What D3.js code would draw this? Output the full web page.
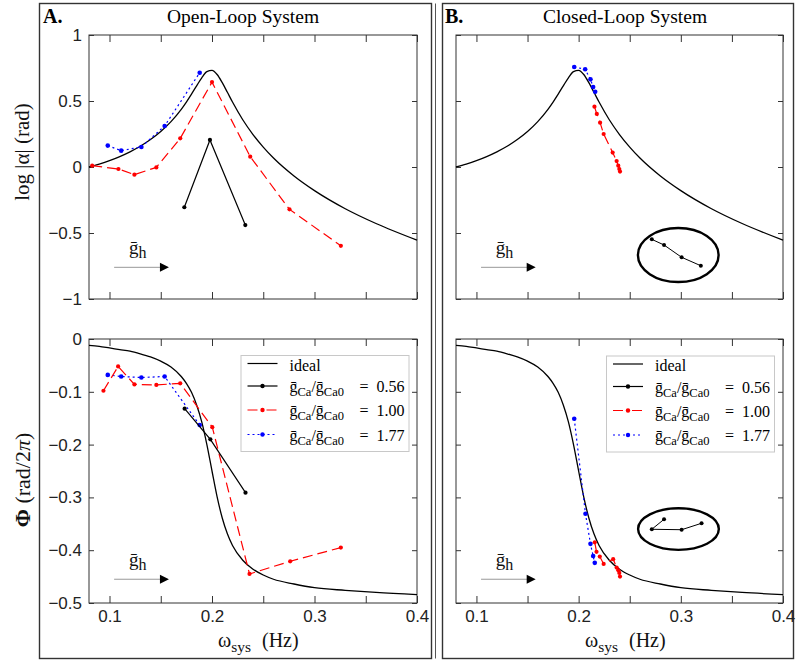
<!DOCTYPE html>
<html><head><meta charset="utf-8">
<script src="https://cdn.jsdelivr.net/npm/d3@7/dist/d3.min.js"></script>
<style>body{margin:0;background:#fff}</style>
</head><body>
<svg id="c" width="796" height="660" xmlns="http://www.w3.org/2000/svg"></svg>
<script>
// ---------- data ----------
const idealFreq  = [0.08,0.09,0.10,0.11,0.12,0.13,0.14,0.15,0.16,0.17,0.175,0.18,0.185,0.19,0.195,0.20,0.205,0.21,0.215,0.22,0.23,0.24,0.25,0.26,0.28,0.30,0.33,0.36,0.40];
const idealMag   = [0.000,0.022,0.048,0.079,0.115,0.157,0.208,0.269,0.344,0.437,0.492,0.552,0.615,0.676,0.722,0.732,0.701,0.639,0.566,0.492,0.358,0.246,0.151,0.068,-0.068,-0.179,-0.316,-0.428,-0.554];
const idealPhase = [-0.012,-0.014,-0.017,-0.020,-0.023,-0.028,-0.034,-0.042,-0.053,-0.071,-0.084,-0.101,-0.125,-0.157,-0.200,-0.250,-0.299,-0.339,-0.369,-0.391,-0.419,-0.436,-0.447,-0.455,-0.464,-0.471,-0.476,-0.480,-0.484];

// Open loop
const olLowFreq   = [0.173,0.198,0.2325];
const olLowMag    = [-0.305,0.205,-0.44];
const olLowPhFreq = [0.1733,0.1984,0.2327];
const olLowPhase  = [-0.132,-0.190,-0.291];

const olMidFreq   = [0.0831,0.1087,0.1243,0.1457,0.169,0.200,0.2373,0.2756,0.3257];
const olMidMag    = [0.010,-0.015,-0.058,-0.003,0.217,0.643,0.078,-0.321,-0.597];
const olMidPhFreq = [0.0941,0.1084,0.1243,0.1457,0.169,0.2003,0.2366,0.2763,0.3257];
const olMidPhase  = [-0.098,-0.052,-0.086,-0.087,-0.084,-0.167,-0.445,-0.421,-0.395];

const olHighFreq  = [0.0983,0.1114,0.1311,0.1538,0.188];
const olHighMag   = [0.162,0.124,0.152,0.311,0.714];
const olHighPhase = [-0.068,-0.071,-0.073,-0.071,-0.163];

// Closed loop
const clHighFreq   = [0.1957,0.2064,0.2116,0.2142,0.2162];
const clHighMag    = [0.758,0.740,0.664,0.606,0.570];
const clHighPhFreq = [0.1957,0.2067,0.2116,0.2142,0.2158];
const clHighPhase  = [-0.151,-0.331,-0.388,-0.411,-0.424];

const clMidFreq    = [0.2155,0.2178,0.221,0.2245,0.2333,0.2372,0.2388,0.2398,0.2405];
const clMidMag     = [0.457,0.402,0.336,0.250,0.109,0.045,0.010,-0.015,-0.035];
const clMidPhFreq  = [0.2158,0.2175,0.2207,0.2245,0.2338,0.2372,0.2388,0.2398,0.2405];
const clMidPhase   = [-0.385,-0.403,-0.412,-0.426,-0.417,-0.433,-0.438,-0.443,-0.450];

// Closed loop, 0.56 (inset, drawn inside ellipse)
const clLowFreq    = [0.2716,0.2836,0.3008,0.3196];
const clLowMag     = [-0.548,-0.591,-0.684,-0.748];
const clLowPhFreq  = [0.2836,0.2716,0.3008,0.3203];
const clLowPhase   = [-0.3415,-0.3604,-0.3612,-0.349];
// inset ellipses: [centerFreq, centerValue, radiusFreq, radiusValue]
const insetMag   = [0.2975,-0.667,0.0395,0.2045];
const insetPhase = [0.2977,-0.360,0.0395,0.0394];

// arrow annotation (g_h): [startFreq, tipFreq, textFreq]
const arrowFreq = [0.1045,0.158,0.119];
const arrowMag  = [-0.76,-0.659];   // arrow level, text baseline
const arrowPh   = [-0.455,-0.430];

const xTicks = [0.1,0.15,0.2,0.25,0.3,0.35,0.4];
const magTicks = [-1,-0.5,0,0.5,1];
const phTicks = [-0.5,-0.4,-0.3,-0.2,-0.1,0];
const legendVals = ["0.56","1.00","1.77"];

// ---------- drawing ----------
const RED="#ff0000", BLUE="#0000ff", BLK="#000";
const SERIF="'Liberation Serif','Times New Roman',serif";
const SANS="'Liberation Sans',Arial,sans-serif";
const svg=d3.select("#c");

// outer panels
svg.append("rect").attr("x",39.5).attr("y",3.5).attr("width",392).attr("height",655)
  .attr("fill","none").attr("stroke","#333").attr("stroke-width",1.4);
svg.append("line").attr("x1",435.5).attr("x2",435.5).attr("y1",3.5).attr("y2",658.5)
  .attr("stroke","#555").attr("stroke-width",1);
svg.append("rect").attr("x",442.5).attr("y",3.5).attr("width",351).attr("height",655)
  .attr("fill","none").attr("stroke","#333").attr("stroke-width",1.4);

// titles
svg.append("text").attr("x",43).attr("y",23).attr("font-family",SERIF).attr("font-weight","bold")
  .attr("font-size",20).text("A.");
svg.append("text").attr("x",243).attr("y",23).attr("text-anchor","middle").attr("font-family",SERIF)
  .attr("font-size",19.5).text("Open-Loop System");
svg.append("text").attr("x",445).attr("y",23).attr("font-family",SERIF).attr("font-weight","bold")
  .attr("font-size",20).text("B.");
svg.append("text").attr("x",625).attr("y",23).attr("text-anchor","middle").attr("font-family",SERIF)
  .attr("font-size",19.5).text("Closed-Loop System");

const yMag=d3.scaleLinear().domain([-1,1]).range([299,35]);
const yPh=d3.scaleLinear().domain([-0.5,0]).range([603,339]);
const xL=d3.scaleLinear().domain([0.08,0.4]).range([89,417]);
const xR=d3.scaleLinear().domain([0.08,0.4]).range([456,783]);

const isMajor=d=>Math.abs(d*10-Math.round(d*10))<1e-6;

function frame(x,y,yT,showX,showY){
  const [bot,top]=y.range(), [left,right]=x.range();
  const g=svg.append("g");
  g.append("rect").attr("x",left).attr("y",top).attr("width",right-left).attr("height",bot-top)
    .attr("fill","none").attr("stroke","#333").attr("stroke-width",1);
  const style=s=>s.attr("font-family",SANS).attr("font-size",17).attr("color","#333")
      .call(a=>a.select(".domain").remove()).call(a=>a.selectAll("text").attr("fill","#222"));
  g.append("g").attr("transform",`translate(0,${bot})`)
    .call(d3.axisBottom(x).tickValues(xTicks).tickSize(-7).tickPadding(7)
      .tickFormat(d=>showX&&isMajor(d)?d3.format(".1f")(d):"")).call(style);
  g.append("g").attr("transform",`translate(0,${top})`)
    .call(d3.axisTop(x).tickValues(xTicks).tickSize(-7).tickFormat("")).call(style);
  g.append("g").attr("transform",`translate(${left},0)`)
    .call(d3.axisLeft(y).tickValues(yT).tickSize(-5).tickPadding(7)
      .tickFormat(d=>showY?d3.format("~g")(d):"")).call(style);
  g.append("g").attr("transform",`translate(${right},0)`)
    .call(d3.axisRight(y).tickValues(yT).tickSize(-5).tickFormat("")).call(style);
}

function series(x,y,fr,vals,color,dash,r,width){
  const pts=d3.zip(fr,vals);
  const line=d3.line().x(d=>x(d[0])).y(d=>y(d[1]));
  svg.append("path").attr("d",line(pts)).attr("fill","none").attr("stroke",color)
    .attr("stroke-width",width||1.2).attr("stroke-dasharray",dash||null);
  if(r) svg.append("g").selectAll("circle").data(pts).join("circle")
    .attr("cx",d=>x(d[0])).attr("cy",d=>y(d[1])).attr("r",r).attr("fill",color);
}

function ideal(x,y,vals){
  const pts=d3.zip(idealFreq,vals);
  svg.append("path").attr("d",d3.line().x(d=>x(d[0])).y(d=>y(d[1])).curve(d3.curveMonotoneX)(pts))
    .attr("fill","none").attr("stroke",BLK).attr("stroke-width",1.3);
}

function arrow(x,y,lv){
  const ay=y(lv[0]);
  const x0=x(arrowFreq[0]), x1=x(arrowFreq[1]);
  svg.append("line").attr("x1",x0).attr("x2",x1-8).attr("y1",ay).attr("y2",ay)
    .attr("stroke","#999").attr("stroke-width",1);
  svg.append("path").attr("d",`M${x1},${ay} L${x1-9},${ay-4.5} L${x1-9},${ay+4.5} Z`).attr("fill",BLK);
  const t=svg.append("text").attr("x",x(arrowFreq[2])).attr("y",y(lv[1])).attr("font-family",SERIF)
    .attr("font-size",19).attr("fill","#111");
  t.append("tspan").text("ḡ");
  t.append("tspan").attr("font-size",16).attr("dy",4).text("h");
}

function inset(x,y,e,fr,vals){
  const cx=x(e[0]), cy=y(e[1]);
  const rx=Math.abs(x(e[0]+e[2])-cx), ry=Math.abs(y(e[1]+e[3])-cy);
  svg.append("ellipse").attr("cx",cx).attr("cy",cy).attr("rx",rx).attr("ry",ry)
    .attr("fill","none").attr("stroke",BLK).attr("stroke-width",2.4);
  series(x,y,fr,vals,BLK,null,2,1);
}

function legend(lx,ly){
  const g=svg.append("g").attr("transform",`translate(${lx},${ly})`);
  g.append("rect").attr("x",0.5).attr("y",0.5).attr("width",168).attr("height",96)
    .attr("fill","#fff").attr("stroke","#c8c8c8").attr("stroke-width",1);
  const rows=[{c:BLK,d:null,m:false},{c:BLK,d:null,m:true},{c:RED,d:"10,9",m:true},{c:BLUE,d:"2,3",m:true}];
  const ys=[8.5,31,55,79.5];
  rows.forEach((rw,i)=>{
    const yy=ys[i];
    g.append("line").attr("x1",7).attr("x2",37).attr("y1",yy).attr("y2",yy).attr("stroke",rw.c)
      .attr("stroke-width",1.2).attr("stroke-dasharray",rw.d);
    if(rw.m) g.append("circle").attr("cx",22).attr("cy",yy).attr("r",2.2).attr("fill",rw.c);
    if(i===0){
      g.append("text").attr("x",49).attr("y",yy+7).attr("font-family",SERIF).attr("font-size",16).text("ideal");
    } else {
      const t=g.append("text").attr("x",49).attr("y",yy+6).attr("font-family",SERIF).attr("font-size",16);
      t.append("tspan").text("ḡ");
      t.append("tspan").attr("font-size",12.5).attr("dy",4).text("Ca");
      t.append("tspan").attr("dy",-4).text("/");
      t.append("tspan").text("ḡ");
      t.append("tspan").attr("font-size",12.5).attr("dy",4).text("Ca0");
      g.append("text").attr("x",119).attr("y",yy+6).attr("font-family",SERIF).attr("font-size",16).text("=");
      g.append("text").attr("x",136).attr("y",yy+6).attr("font-family",SERIF).attr("font-size",16).text(legendVals[i-1]);
    }
  });
}

function xLabel(x){
  const t=svg.append("text").attr("x",x.range()[0]+129).attr("y",647).attr("font-family",SERIF)
    .attr("font-size",20).attr("fill","#111");
  t.append("tspan").text("ω");
  t.append("tspan").attr("font-size",15.5).attr("dy",5).text("sys");
  t.append("tspan").attr("dy",-5).attr("dx",11).text("(Hz)");
}

// ----- Panel A top -----
frame(xL,yMag,magTicks,false,true);
ideal(xL,yMag,idealMag);
series(xL,yMag,olHighFreq,olHighMag,BLUE,"2,3",2.3);
series(xL,yMag,olMidFreq,olMidMag,RED,"10,5",2.1);
series(xL,yMag,olLowFreq,olLowMag,BLK,null,2.1);
arrow(xL,yMag,arrowMag);

// ----- Panel A bottom -----
frame(xL,yPh,phTicks,true,true);
ideal(xL,yPh,idealPhase);
series(xL,yPh,olHighFreq,olHighPhase,BLUE,"2,3",2.3);
series(xL,yPh,olMidPhFreq,olMidPhase,RED,"10,5",2.1);
series(xL,yPh,olLowPhFreq,olLowPhase,BLK,null,2.1);
arrow(xL,yPh,arrowPh);
legend(240.5,355);
xLabel(xL);

// ----- Panel B top -----
frame(xR,yMag,magTicks,false,false);
ideal(xR,yMag,idealMag);
series(xR,yMag,clHighFreq,clHighMag,BLUE,"2,3",2.3);
series(xR,yMag,clMidFreq,clMidMag,RED,"10,5",2.1);
inset(xR,yMag,insetMag,clLowFreq,clLowMag);
arrow(xR,yMag,arrowMag);

// ----- Panel B bottom -----
frame(xR,yPh,phTicks,true,false);
ideal(xR,yPh,idealPhase);
series(xR,yPh,clHighPhFreq,clHighPhase,BLUE,"2,3",2.3);
series(xR,yPh,clMidPhFreq,clMidPhase,RED,"10,5",2.1);
inset(xR,yPh,insetPhase,clLowPhFreq,clLowPhase);
arrow(xR,yPh,arrowPh);
legend(606,355.5);
xLabel(xR);

// y-axis labels
svg.append("text").attr("transform","translate(29,152) rotate(-90)").attr("text-anchor","middle")
  .attr("font-family",SERIF).attr("font-size",21).attr("fill","#111").text("log |α| (rad)");
const py=svg.append("text").attr("transform","translate(30,480) rotate(-90)").attr("text-anchor","middle")
  .attr("font-family",SERIF).attr("font-size",22).attr("fill","#111");
py.append("tspan").attr("font-weight","bold").text("Φ");
py.append("tspan").text(" (rad/2");
py.append("tspan").attr("font-style","italic").text("π");
py.append("tspan").text(")");
</script>
</body></html>
